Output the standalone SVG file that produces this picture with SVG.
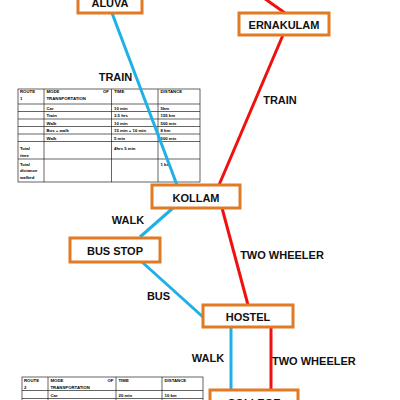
<svg xmlns="http://www.w3.org/2000/svg" width="400" height="400" viewBox="0 0 400 400">
<style>
.box{fill:#fff;stroke:#E07B24;stroke-width:3}
.nt{font-family:"Liberation Sans",Arial,sans-serif;font-weight:bold;font-size:11px;fill:#111;text-anchor:middle}
.lbl{font-family:"Liberation Sans",Arial,sans-serif;font-weight:bold;font-size:11px;fill:#111}
.blue{stroke:#1FB0E6;stroke-width:3;fill:none}
.red{stroke:#F01010;stroke-width:3;fill:none}
.tl{stroke:#222;stroke-width:0.7;fill:none}
.tt{font-family:"Liberation Sans",Arial,sans-serif;font-weight:bold;font-size:4.3px;fill:#000}
</style>
<rect width="400" height="400" fill="#fff"/>
<g id="table1">
<rect x="18" y="89" width="182" height="93" fill="#fff" class="tl"/>
<path class="tl" d="M44 89V182M111.5 89V182M158 89V182M18 104H200M18 111.5H200M18 119H200M18 126.5H200M18 134H200M18 141.5H200M18 159H200"/>
<g class="tt">
<text x="20" y="93">ROUTE</text><text x="20" y="100">1</text>
<text x="46.5" y="93">MODE</text><text x="109" y="93" text-anchor="end">OF</text><text x="46.5" y="100">TRANSPORTATION</text>
<text x="114" y="93">TIME</text><text x="160.5" y="93">DISTANCE</text>
<text x="46.5" y="109.5">Car</text><text x="114" y="109.5">10 min</text><text x="160.5" y="109.5">5km</text>
<text x="46.5" y="117">Train</text><text x="114" y="117">3.5 hrs</text><text x="160.5" y="117">155 km</text>
<text x="46.5" y="124.5">Walk</text><text x="114" y="124.5">10 min</text><text x="160.5" y="124.5">500 mts</text>
<text x="46.5" y="132">Bus + walk</text><text x="114" y="132">15 min + 10 min</text><text x="160.5" y="132">8 km</text>
<text x="46.5" y="139.5">Walk</text><text x="114" y="139.5">5 min</text><text x="160.5" y="139.5">500 mts</text>
<text x="20" y="149.5">Total</text><text x="20" y="156.5">time</text><text x="114" y="149.5">4hrs 5 min</text>
<text x="20" y="165.5">Total</text><text x="20" y="172">distance</text><text x="20" y="178.5">walked</text><text x="160.5" y="165.5">1 km</text>
</g>
</g>
<g id="table2">
<rect x="22" y="377" width="181" height="30" fill="#fff" class="tl"/>
<path class="tl" d="M48 377V407M116 377V407M162 377V407M22 390.5H203M22 398.5H203"/>
<g class="tt">
<text x="24" y="382">ROUTE</text><text x="24" y="389">2</text>
<text x="50.5" y="382">MODE</text><text x="113.5" y="382" text-anchor="end">OF</text><text x="50.5" y="389">TRANSPORTATION</text>
<text x="118.5" y="382">TIME</text><text x="164.5" y="382">DISTANCE</text>
<text x="50.5" y="396.5">Car</text><text x="118.5" y="396.5">20 min</text><text x="164.5" y="396.5">10 km</text>
</g>
</g>
<g id="connectors">
<line class="blue" x1="112" y1="13" x2="177" y2="185"/>
<line class="red" x1="261" y1="-4" x2="285" y2="13"/>
<line class="red" x1="283" y1="35" x2="219" y2="185"/>
<line class="blue" x1="173" y1="208" x2="140" y2="237"/>
<line class="red" x1="222" y1="208" x2="248" y2="305"/>
<line class="blue" x1="142" y1="262" x2="203" y2="317"/>
<line class="blue" x1="231" y1="327" x2="231" y2="390"/>
<line class="red" x1="271" y1="327" x2="271" y2="390"/>
<text class="lbl" x="115.5" y="81" text-anchor="middle">TRAIN</text>
<text class="lbl" x="280" y="103.5" text-anchor="middle">TRAIN</text>
<text class="lbl" x="128" y="224" text-anchor="middle">WALK</text>
<text class="lbl" x="158.5" y="300" text-anchor="middle">BUS</text>
<text class="lbl" x="282" y="259" text-anchor="middle">TWO WHEELER</text>
<text class="lbl" x="208" y="361.5" text-anchor="middle">WALK</text>
<text class="lbl" x="272" y="365">TWO WHEELER</text>
</g>
<g id="aluva"><rect class="box" x="78" y="-10" width="64" height="23"/><text class="nt" x="110" y="7">ALUVA</text></g>
<g id="ernakulam"><rect class="box" x="239" y="13" width="90" height="22"/><text class="nt" x="284" y="28.5">ERNAKULAM</text></g>
<g id="kollam"><rect class="box" x="152" y="185" width="88" height="23"/><text class="nt" x="196" y="201.5">KOLLAM</text></g>
<g id="busstop"><rect class="box" x="70" y="238" width="90" height="24"/><text class="nt" x="115" y="255">BUS STOP</text></g>
<g id="hostel"><rect class="box" x="203" y="305" width="90" height="22"/><text class="nt" x="248" y="321">HOSTEL</text></g>
<g id="college"><rect class="box" x="210" y="390" width="88" height="23"/><text class="nt" x="254" y="407">COLLEGE</text></g>
</svg>
